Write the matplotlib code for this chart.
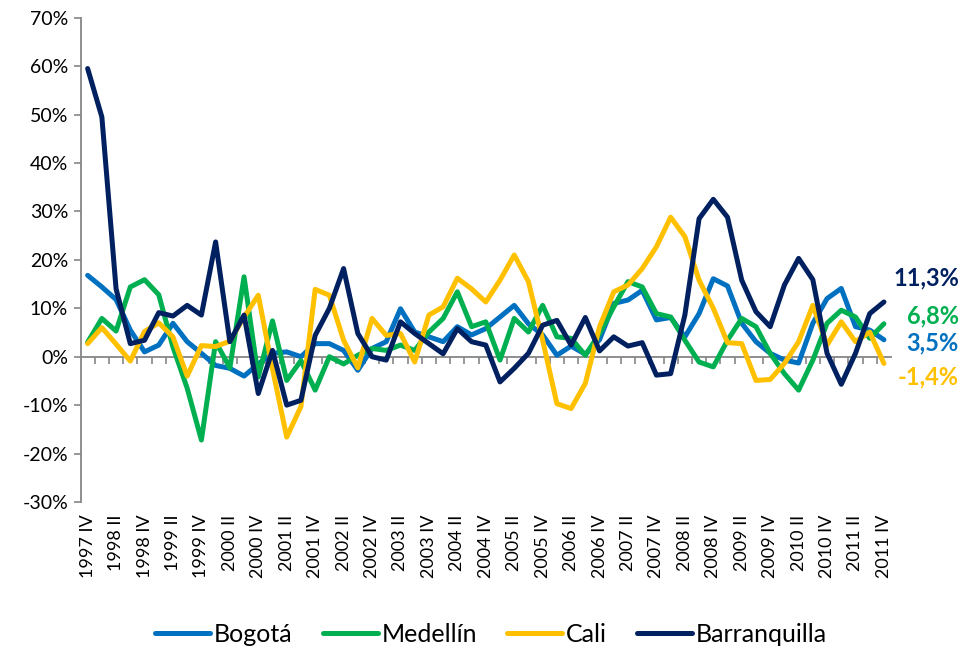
import matplotlib.pyplot as plt
from matplotlib.ticker import FuncFormatter

plt.rcParams['font.family'] = ['Lato', 'DejaVu Sans']

# Variación anual trimestral, 1997 IV - 2011 IV (57 trimestres)
bogota = [16.8, 14.4, 11.8, 5.5, 1.0, 2.4, 6.9, 3.1, 0.7, -1.8,
          -2.4, -4.0, -1.5, 0.7, 1.0, 0.0, 2.7, 2.7, 1.3, -2.8,
          1.7, 3.1, 9.9, 5.1, 4.1, 3.1, 6.2, 4.5, 5.8, 8.2,
          10.6, 6.8, 4.5, 0.3, 2.2, 0.5, 3.5, 11.0, 11.7, 13.7,
          7.6, 8.1, 4.1, 8.9, 16.1, 14.6, 6.9, 3.1, 0.7, -0.7,
          -1.3, 6.9, 12.0, 14.1, 6.2, 5.5, 3.5]
medellin = [3.0, 7.9, 5.3, 14.4, 15.9, 12.8, 2.0, -6.5, -17.2, 3.1,
            -2.3, 16.5, -4.2, 7.4, -4.9, -0.8, -6.9, 0.0, -1.5, 0.3,
            1.7, 1.3, 2.4, 1.3, 5.1, 7.9, 13.4, 6.2, 7.2, -0.7,
            7.9, 5.1, 10.6, 4.1, 3.8, 0.3, 4.8, 10.3, 15.5, 14.4,
            8.9, 8.2, 3.4, -1.1, -2.1, 3.4, 7.9, 6.2, 0.7, -3.5,
            -6.9, -0.7, 6.9, 9.6, 8.2, 3.8, 6.8]
cali = [2.7, 6.0, 2.6, -0.9, 5.2, 7.0, 4.1, -4.0, 2.3, 2.1,
        3.2, 8.2, 12.7, -2.5, -16.6, -10.3, 13.9, 12.7, 3.4, -2.3,
        7.9, 4.4, 4.8, -1.1, 8.6, 10.3, 16.2, 14.0, 11.3, 15.8,
        21.0, 15.5, 3.4, -9.7, -10.7, -5.5, 6.2, 13.4, 14.8, 18.2,
        22.7, 28.8, 24.8, 15.8, 10.0, 2.9, 2.7, -4.9, -4.7, -1.4,
        3.1, 10.6, 2.4, 7.2, 3.1, 5.1, -1.4]
barranquilla = [59.5, 49.5, 14.0, 2.7, 3.4, 9.1, 8.4, 10.6, 8.6, 23.7,
                3.1, 8.6, -7.6, 1.3, -10.0, -9.0, 4.4, 10.0, 18.2, 4.8,
                0.0, -0.7, 7.2, 4.8, 2.7, 0.6, 5.8, 3.1, 2.4, -5.2,
                -2.4, 0.7, 6.5, 7.5, 2.4, 8.1, 1.2, 4.1, 2.2, 2.9,
                -3.8, -3.5, 8.6, 28.5, 32.5, 28.8, 15.8, 9.3, 6.2, 14.8,
                20.3, 15.9, 0.7, -5.7, 0.7, 8.9, 11.3]

etiquetas = ['1997 IV', '1998 II', '1998 IV', '1999 II', '1999 IV', '2000 II',
             '2000 IV', '2001 II', '2001 IV', '2002 II', '2002 IV', '2003 II',
             '2003 IV', '2004 II', '2004 IV', '2005 II', '2005 IV', '2006 II',
             '2006 IV', '2007 II', '2007 IV', '2008 II', '2008 IV', '2009 II',
             '2009 IV', '2010 II', '2010 IV', '2011 II', '2011 IV']

series = [('Bogotá', bogota, '#0070C0'),
          ('Medellín', medellin, '#00B050'),
          ('Cali', cali, '#FFC000'),
          ('Barranquilla', barranquilla, '#002060')]

# desplazamiento (pt) de la etiqueta del último dato
offsets = {'Bogotá': -2.5, 'Medellín': 6, 'Cali': -10, 'Barranquilla': 17}

gris = '#868686'
n = len(bogota)
x = list(range(n))

fig = plt.figure(figsize=(9.61, 6.48), dpi=100)
ax = fig.add_axes([0.0838, 0.2253, 0.8434, 0.7474])

for nombre, valores, color in series:
    ax.plot(x, valores, color=color, lw=3.6, label=nombre,
            solid_joinstyle='round', solid_capstyle='round')
    ax.annotate(f'{valores[-1]:.1f}%'.replace('.', ','),
                xy=(x[-1], valores[-1]), xytext=(54, offsets[nombre]),
                textcoords='offset points', ha='right', va='center',
                fontsize=17, fontweight='bold', color=color,
                annotation_clip=False)

ax.set_xlim(-0.5, n - 0.5)
ax.set_ylim(-30, 70)
ax.set_yticks(range(-30, 71, 10))
ax.yaxis.set_major_formatter(FuncFormatter(lambda v, p: f'{v:.0f}%'))
ax.set_xticks(x[::2])
ax.set_xticklabels(etiquetas, rotation=90)

for s in ['top', 'right', 'bottom']:
    ax.spines[s].set_visible(False)
ax.spines['left'].set_color(gris)
ax.spines['left'].set_linewidth(1.3)
ax.tick_params(axis='y', colors=gris, length=5, width=1.2, labelsize=14,
               labelcolor='black', pad=4)
ax.tick_params(axis='x', length=0, labelsize=13, pad=9)

# eje horizontal en el cero con marcas entre categorías
eje0 = ax.secondary_xaxis(0.3)
eje0.spines['bottom'].set_color(gris)
eje0.spines['bottom'].set_linewidth(1.3)
eje0.set_xticks([])
eje0.set_xticks([i + 0.5 for i in x[:-1]], minor=True)
eje0.tick_params(axis='x', which='minor', length=5, width=1.2, colors=gris)

fig.legend(loc='lower center', bbox_to_anchor=(0.511, -0.031), ncol=4,
           frameon=False, fontsize=18, handlelength=2.2, handletextpad=0.16,
           columnspacing=1.2)

fig.savefig('out.png', dpi=100)
